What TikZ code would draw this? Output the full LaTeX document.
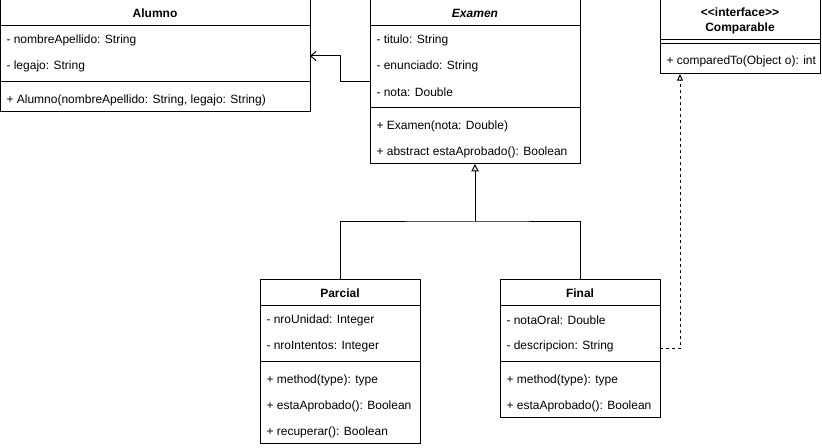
\documentclass[tikz,border=0pt]{standalone}
\usepackage{fontspec}
\setmainfont{Liberation Sans}[Ligatures=TeXOff]
\usetikzlibrary{arrows.meta,calc}
\begin{document}
\begin{tikzpicture}[x=0.75pt,y=-0.75pt,line width=0.75pt,
  classbox/.style={draw,anchor=north west,inner sep=0pt,outer sep=0pt,fill=white},
  attr/.style={anchor=west,inner sep=0pt,font=\fontsize{9}{11}\selectfont},
  ctitle/.style={anchor=center,inner sep=0pt,align=center,font=\bfseries\fontsize{9}{11}\selectfont},
  assoc/.style={-{Straight Barb[length=4pt,width=7pt]}},
  inh/.style={-{Triangle[open,length=5.5pt,width=5.5pt,fill=white]}},
  real/.style={dash pattern=on 2.25pt off 2.25pt,-{Triangle[open,length=5pt,width=4.5pt,fill=white]}}
]
\useasboundingbox (0,0) rectangle (822,448);

% Alumno
\node[classbox,minimum width=232.5pt,minimum height=84pt] (alumno) at (0,0) {};
\node[ctitle] (alumnoT) at (155,13.5) {Alumno};
\draw (0,26) -- (310,26);
\node[attr] (a1) at (6,40.5) {- nombreApellido: String};
\node[attr] (a2) at (6,66) {- legajo: String};
\draw (0,82) -- (310,82);
\node[attr] (a3) at (6,100.5) {+ Alumno(nombreApellido: String, legajo: String)};

% Examen
\node[classbox,minimum width=157.5pt,minimum height=123pt] (examen) at (370,0) {};
\node[ctitle,font=\bfseries\itshape\fontsize{9}{11}\selectfont] (examenT) at (475,13.5) {Examen};
\draw (370,26) -- (580,26);
\node[attr] (e1) at (376,40.5) {- titulo: String};
\node[attr] (e2) at (376,66) {- enunciado: String};
\node[attr] (e3) at (376,92) {- nota: Double};
\draw (370,108) -- (580,108);
\node[attr] (e4) at (376,126.5) {+ Examen(nota: Double)};
\node[attr] (e5) at (376,152.5) {+ abstract estaAprobado(): Boolean};

% Comparable
\node[classbox,minimum width=120pt,minimum height=55.5pt] (comparable) at (660,0) {};
\node[ctitle] (compT) at (740,21) {<<interface>>\\Comparable};
\draw (660,40) -- (820,40);
\draw (660,44) -- (820,44);
\node[attr] (c1) at (666,61.5) {+ comparedTo(Object o): int};

% Parcial
\node[classbox,minimum width=120pt,minimum height=123pt] (parcial) at (260,280) {};
\node[ctitle] (parcialT) at (340,293.5) {Parcial};
\draw (260,306) -- (420,306);
\node[attr] (p1) at (266,320.5) {- nroUnidad: Integer};
\node[attr] (p2) at (266,346.5) {- nroIntentos: Integer};
\draw (260,362) -- (420,362);
\node[attr] (p3) at (266,380.5) {+ method(type): type};
\node[attr] (p4) at (266,406.5) {+ estaAprobado(): Boolean};
\node[attr] (p5) at (266,432.5) {+ recuperar(): Boolean};

% Final
\node[classbox,minimum width=120pt,minimum height=103.5pt] (final) at (500,280) {};
\node[ctitle] (finalT) at (580,293.5) {Final};
\draw (500,306) -- (660,306);
\node[attr] (f1) at (506,320.5) {- notaOral: Double};
\node[attr] (f2) at (506,346.5) {- descripcion: String};
\draw (500,362) -- (660,362);
\node[attr] (f3) at (506,380.5) {+ method(type): type};
\node[attr] (f4) at (506,406.5) {+ estaAprobado(): Boolean};

% Connectors
\draw[assoc] (examen.west) -- ++(-30,0) |- (alumno.east);
\coordinate (join) at (475,222);
\draw (parcial.north) |- (join) -| (final.north);
\draw[inh] (join) -- (examen.south);
\draw[real] (final.east) -| ($(comparable.south west)!0.125!(comparable.south east)$);
\end{tikzpicture}
\end{document}
